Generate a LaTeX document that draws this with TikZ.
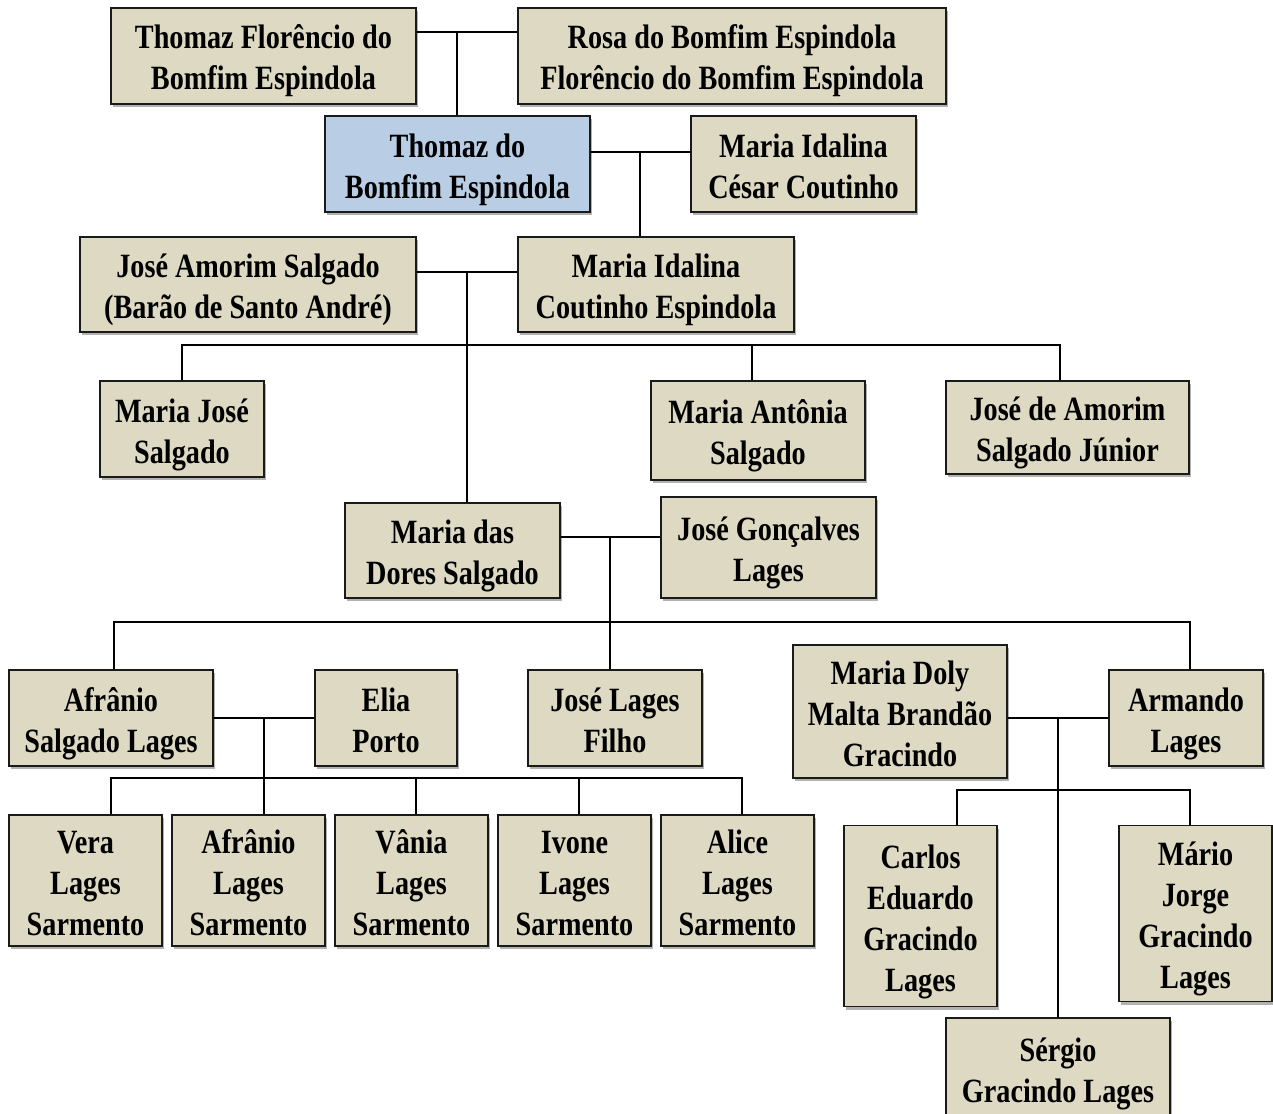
\documentclass[tikz,border=0pt]{standalone}
\usepackage{fontspec}
\setmainfont[FakeStretch=0.83]{Liberation Serif}
\usetikzlibrary{shadows}
\definecolor{tan}{HTML}{DDD9C3}
\definecolor{bluebox}{HTML}{B9CDE5}
\definecolor{edge}{HTML}{1A1A1A}
\newcommand\pname[1]{\rule{0pt}{36pt}#1\rule[-9pt]{0pt}{9pt}}
\tikzset{
  person/.style={draw=edge, line width=1.8pt, fill=tan, align=center, inner sep=0pt,
    font=\fontsize{34}{41}\selectfont\bfseries,
    drop shadow={shadow xshift=2pt, shadow yshift=-3pt, opacity=0.3, fill=black}},
  focus/.style={person, fill=bluebox},
  link/.style={draw=black, line width=1.8pt}
}
\begin{document}
\begin{tikzpicture}[x=1pt,y=-1pt]
\useasboundingbox (0,0) rectangle (1273,1113);
% generation 1
\node[person, minimum width=305pt, minimum height=96pt] (n1) at (263.5,56) {\pname{Thomaz Florêncio do\\Bomfim Espindola}};
\node[person, minimum width=428pt, minimum height=96pt] (n2) at (732,56) {\pname{Rosa do Bomfim Espindola\\Florêncio do Bomfim Espindola}};
% generation 2
\node[focus, minimum width=265pt, minimum height=96pt] (n3) at (457.5,164) {\pname{Thomaz do\\Bomfim Espindola}};
\node[person, minimum width=225pt, minimum height=96pt] (n4) at (803.5,164) {\pname{Maria Idalina\\César Coutinho}};
% generation 3
\node[person, minimum width=336pt, minimum height=95pt] (n5) at (248,284.5) {\pname{José Amorim Salgado\\(Barão de Santo André)}};
\node[person, minimum width=276pt, minimum height=95pt] (n6) at (656,284.5) {\pname{Maria Idalina\\Coutinho Espindola}};
% generation 4
\node[person, minimum width=164pt, minimum height=96pt] (n7) at (182,429) {\pname{Maria José\\Salgado}};
\node[person, minimum width=214pt, minimum height=99pt] (n8) at (758,430.5) {\pname{Maria Antônia\\Salgado}};
\node[person, minimum width=243pt, minimum height=93pt] (n9) at (1067.5,427.5) {\pname{José de Amorim\\Salgado Júnior}};
\node[person, minimum width=215pt, minimum height=95pt] (n10) at (452.5,550.5) {\pname{Maria das\\Dores Salgado}};
\node[person, minimum width=215pt, minimum height=101pt] (n11) at (768.5,547.5) {\pname{José Gonçalves\\Lages}};
% generation 5
\node[person, minimum width=204pt, minimum height=96pt] (n12) at (111,718) {\pname{Afrânio\\Salgado Lages}};
\node[person, minimum width=142pt, minimum height=96pt] (n13) at (386,718) {\pname{Elia\\Porto}};
\node[person, minimum width=174pt, minimum height=96pt] (n14) at (615,718) {\pname{José Lages\\Filho}};
\node[person, minimum width=214pt, minimum height=133pt] (n15) at (900,711.5) {\pname{Maria Doly\\Malta Brandão\\Gracindo}};
\node[person, minimum width=154pt, minimum height=96pt] (n16) at (1186,718) {\pname{Armando\\Lages}};
% generation 6
\node[person, minimum width=153pt, minimum height=131pt] (n17) at (85.5,880.5) {\pname{Vera\\Lages\\Sarmento}};
\node[person, minimum width=153pt, minimum height=131pt] (n18) at (248.5,880.5) {\pname{Afrânio\\Lages\\Sarmento}};
\node[person, minimum width=153pt, minimum height=131pt] (n19) at (411.5,880.5) {\pname{Vânia\\Lages\\Sarmento}};
\node[person, minimum width=153pt, minimum height=131pt] (n20) at (574.5,880.5) {\pname{Ivone\\Lages\\Sarmento}};
\node[person, minimum width=153pt, minimum height=131pt] (n21) at (737.5,880.5) {\pname{Alice\\Lages\\Sarmento}};
\node[person, minimum width=153pt, minimum height=181pt] (n22) at (920.5,916) {\pname{Carlos\\Eduardo\\Gracindo\\Lages}};
\node[person, minimum width=153pt, minimum height=176pt] (n23) at (1195.5,913.5) {\pname{Mário\\Jorge\\Gracindo\\Lages}};
\node[person, minimum width=224pt, minimum height=100pt] (n24) at (1058,1068) {\pname{Sérgio\\Gracindo Lages}};
% junction points
\coordinate (m1) at (457,32);
\coordinate (m2) at (640,152);
\coordinate (m3) at (467,272);
\coordinate (b3l) at (182,345);
\coordinate (b3m) at (752,345);
\coordinate (b3r) at (1060,345);
\coordinate (m4) at (610,537);
\coordinate (b4l) at (114,622);
\coordinate (b4r) at (1190,622);
\coordinate (m5) at (264,718);
\coordinate (b5a) at (111,778);
\coordinate (b5b) at (416,778);
\coordinate (b5c) at (579,778);
\coordinate (b5d) at (742,778);
\coordinate (m6) at (1058,718);
\coordinate (b6l) at (957,790);
\coordinate (b6r) at (1190,790);
% connectors
\draw[link] (n1.east |- m1) -- (n2.west |- m1);
\draw[link] (m1) -- (m1 |- n3.north);
\draw[link] (n3.east |- m2) -- (n4.west |- m2);
\draw[link] (m2) -- (m2 |- n6.north);
\draw[link] (n5.east |- m3) -- (n6.west |- m3);
\draw[link] (m3) -- (m3 |- n10.north);
\draw[link] (b3l |- n7.north) -- (b3l) -- (b3r) -- (b3r |- n9.north);
\draw[link] (b3m) -- (b3m |- n8.north);
\draw[link] (n10.east |- m4) -- (n11.west |- m4);
\draw[link] (m4) -- (m4 |- n14.north);
\draw[link] (b4l |- n12.north) -- (b4l) -- (b4r) -- (b4r |- n16.north);
\draw[link] (n12.east |- m5) -- (n13.west |- m5);
\draw[link] (m5) -- (m5 |- n18.north);
\draw[link] (b5a |- n17.north) -- (b5a) -- (b5d) -- (b5d |- n21.north);
\draw[link] (b5b) -- (b5b |- n19.north);
\draw[link] (b5c) -- (b5c |- n20.north);
\draw[link] (n15.east |- m6) -- (n16.west |- m6);
\draw[link] (m6) -- (m6 |- n24.north);
\draw[link] (b6l |- n22.north) -- (b6l) -- (b6r) -- (b6r |- n23.north);
\end{tikzpicture}
\end{document}
